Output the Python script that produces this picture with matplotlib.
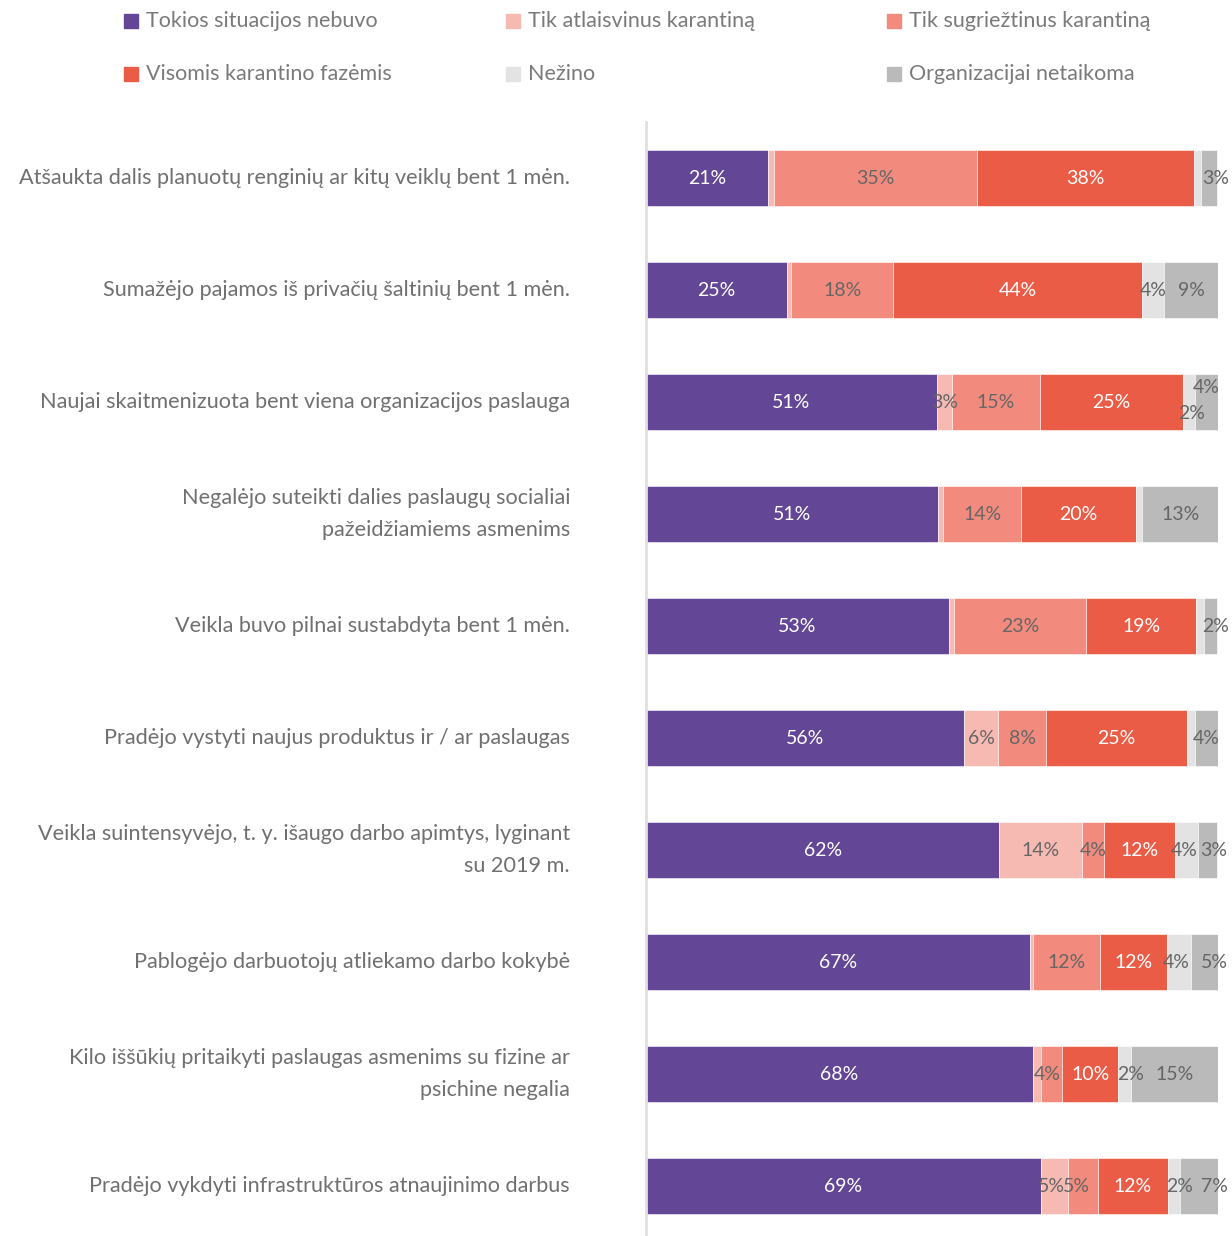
import numpy as np
import matplotlib.pyplot as plt
from matplotlib.patches import Rectangle

plt.rcParams['font.family'] = ['Lato', 'DejaVu Sans']

categories = [
    "Atšaukta dalis planuotų renginių ar kitų veiklų bent 1 mėn.",
    "Sumažėjo pajamos iš privačių šaltinių bent 1 mėn.",
    "Naujai skaitmenizuota bent viena organizacijos paslauga",
    "Negalėjo suteikti dalies paslaugų socialiai\npažeidžiamiems asmenims",
    "Veikla buvo pilnai sustabdyta bent 1 mėn.",
    "Pradėjo vystyti naujus produktus ir / ar paslaugas",
    "Veikla suintensyvėjo, t. y. išaugo darbo apimtys, lyginant\nsu 2019 m.",
    "Pablogėjo darbuotojų atliekamo darbo kokybė",
    "Kilo iššūkių pritaikyti paslaugas asmenims su fizine ar\npsichine negalia",
    "Pradėjo vykdyti infrastruktūros atnaujinimo darbus",
]

series_names = [
    "Tokios situacijos nebuvo",
    "Tik atlaisvinus karantiną",
    "Tik sugriežtinus karantiną",
    "Visomis karantino fazėmis",
    "Nežino",
    "Organizacijai netaikoma",
]

nebuvo       = [21.3, 24.7, 50.8, 51.0, 52.9, 55.6, 61.8, 67.1, 67.7, 69.0]
atlaisvinus  = [1.1, 0.7, 2.7, 1.0, 0.9, 6.0, 14.4, 0.6, 1.3, 4.7]
sugrieztinus = [35.4, 17.8, 15.4, 13.6, 23.1, 8.4, 3.8, 11.7, 3.7, 5.3]
visomis      = [38.0, 43.6, 24.9, 20.0, 19.3, 24.6, 12.4, 11.6, 9.9, 12.2]
nezino       = [1.2, 3.8, 2.1, 1.1, 1.3, 1.4, 4.1, 4.2, 2.2, 2.1]
netaikoma    = [2.9, 9.4, 4.2, 13.4, 2.4, 4.0, 3.4, 5.0, 15.2, 6.7]

colors = ['#634695', '#f6bab3', '#f28b7d', '#eb5c46', '#e3e3e3', '#bababa']
label_colors = ['white', '#666666', '#666666', 'white', '#666666', '#666666']

# small nudges (px) for crowded labels: (row, series) -> (dx, dy)
nudges = {
    (0, 5): (6, 0),
    (2, 5): (0, 15), (2, 4): (3, -11),
    (4, 5): (5, 0),
    (6, 5): (6, 0), (6, 4): (-2, 0),
    (7, 5): (10, 0), (7, 4): (-2, 0),
    (8, 4): (6, 0), (8, 2): (-4, 0),
    (9, 5): (16, 0), (9, 4): (6, 0), (9, 1): (-3, 0), (9, 2): (-6, 0),
}

fig = plt.figure(figsize=(12.32, 12.36), dpi=100)
ax = fig.add_axes([646 / 1232, 0.0, 572 / 1232, 1 - 122 / 1236])

data = [nebuvo, atlaisvinus, sugrieztinus, visomis, nezino, netaikoma]
y = np.arange(len(categories))
left = np.zeros(len(categories))
for s, vals in enumerate(data):
    vals = np.array(vals)
    ax.barh(y, vals, left=left, height=0.5, color=colors[s],
            edgecolor='white', linewidth=0.4)
    for i, v in enumerate(vals):
        if round(v) >= 2:
            dx, dy = nudges.get((i, s), (0, 0))
            ax.annotate(f"{round(v)}%", xy=(left[i] + v / 2, i),
                        xytext=(dx, dy), textcoords='offset pixels',
                        ha='center', va='center', fontsize=14,
                        color=label_colors[s])
    left += vals

ax.set_xlim(0, 100)
ax.set_ylim(len(categories) - 0.554, -0.5)
for side in ['top', 'right', 'bottom']:
    ax.spines[side].set_visible(False)
ax.spines['left'].set_color('#e0e0e0')
ax.spines['left'].set_linewidth(2)
ax.set_xticks([])
ax.set_yticks([])

for i, cat in enumerate(categories):
    ax.annotate(cat, xy=(0, i), xycoords=('axes fraction', 'data'),
                xytext=(-76, 0), textcoords='offset pixels',
                ha='right', va='center', fontsize=15.6, color='#707070',
                linespacing=1.8)

# legend laid out in a 3 x 2 grid like the original
leg_x = [124, 506, 887]
leg_y = [21, 74]
for k, name in enumerate(series_names):
    r, c = divmod(k, 3)
    px, py = leg_x[c], leg_y[r]
    fig.add_artist(Rectangle((px / 1232, 1 - (py + 7) / 1236), 14 / 1232, 14 / 1236,
                             transform=fig.transFigure, color=colors[k]))
    fig.text((px + 22) / 1232, 1 - py / 1236, name, ha='left', va='center',
             fontsize=15.5, color='#7a7a7a')

fig.savefig('out.png', dpi=100)
